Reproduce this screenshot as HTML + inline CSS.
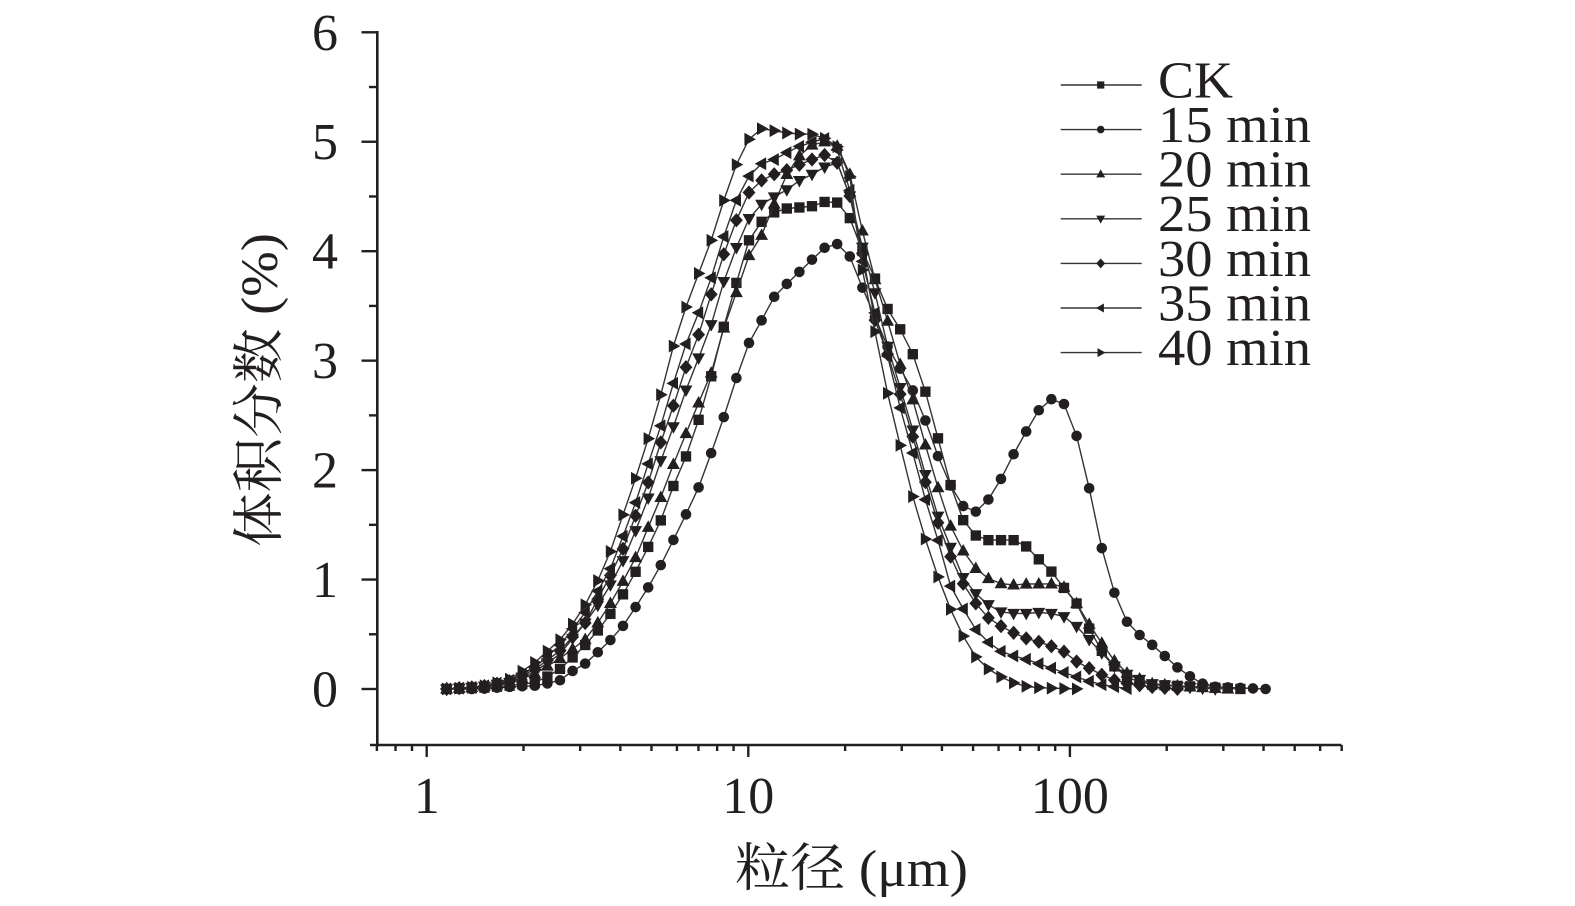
<!DOCTYPE html>
<html>
<head>
<meta charset="utf-8">
<style>
html,body{margin:0;padding:0;background:#fff;}
svg{display:block;}
text{fill:#231f20;}
</style>
</head>
<body>
<svg id="chart" xmlns="http://www.w3.org/2000/svg" width="1575" height="906" viewBox="0 0 1575 906">
<rect x="0" y="0" width="1575" height="906" fill="#fff"/>
<g id="axes" stroke="#231f20" stroke-width="2.6" fill="none" stroke-linecap="butt">
  <line x1="377.3" y1="31" x2="377.3" y2="746.3"/>
  <line x1="370" y1="745" x2="1341.5" y2="745"/>
</g>
<g id="ticks" stroke="#231f20" stroke-width="2.4" fill="none"></g>
<g font-family="'Liberation Serif', serif" font-size="52" fill="#231f20">
  <text x="338" y="706.5" text-anchor="end">0</text>
  <text x="338" y="597" text-anchor="end">1</text>
  <text x="338" y="487.6" text-anchor="end">2</text>
  <text x="338" y="378.1" text-anchor="end">3</text>
  <text x="338" y="268.7" text-anchor="end">4</text>
  <text x="338" y="159.2" text-anchor="end">5</text>
  <text x="338" y="49.8" text-anchor="end">6</text>
  <text x="426.7" y="813" text-anchor="middle">1</text>
  <text x="748.3" y="813" text-anchor="middle">10</text>
  <text x="1069.9" y="813" text-anchor="middle">100</text>
</g>
<text x="735" y="886" font-family="'Liberation Serif','Noto Serif CJK SC',serif" font-size="52" textLength="233" lengthAdjust="spacingAndGlyphs">粒径 (μm)</text>
<text transform="translate(277,547) rotate(-90)" x="0" y="0" font-family="'Liberation Serif','Noto Serif CJK SC',serif" font-size="52" textLength="314" lengthAdjust="spacingAndGlyphs">体积分数 (%)</text>
<g id="series"></g>
<g id="legend"></g>
<g font-family="'Liberation Serif', serif" font-size="52" fill="#231f20">
  <text x="1158" y="97.5" textLength="75" lengthAdjust="spacingAndGlyphs">CK</text>
  <text x="1158" y="142" textLength="153" lengthAdjust="spacingAndGlyphs">15 min</text>
  <text x="1158" y="186.6" textLength="153" lengthAdjust="spacingAndGlyphs">20 min</text>
  <text x="1158" y="231.2" textLength="153" lengthAdjust="spacingAndGlyphs">25 min</text>
  <text x="1158" y="275.8" textLength="153" lengthAdjust="spacingAndGlyphs">30 min</text>
  <text x="1158" y="320.4" textLength="153" lengthAdjust="spacingAndGlyphs">35 min</text>
  <text x="1158" y="365" textLength="153" lengthAdjust="spacingAndGlyphs">40 min</text>
</g>
</svg>
<script>
(function(){
var NS="http://www.w3.org/2000/svg";
function el(tag,attrs,parent){var e=document.createElementNS(NS,tag);for(var k in attrs)e.setAttribute(k,attrs[k]);parent.appendChild(e);return e;}
var X=function(v){return 426.7+321.6*Math.log10(v);};
var Y=function(v){return 689-109.45*v;};
var tg=document.getElementById('ticks');
for(var v=0;v<=6;v++){var y=Y(v);el('line',{x1:361.5,y1:y,x2:377.3,y2:y},tg);}
for(var v=0.5;v<6;v+=1){var y=Y(v);el('line',{x1:369,y1:y,x2:377.3,y2:y},tg);}
[1,10,100].forEach(function(v){var x=X(v);el('line',{x1:x,y1:745,x2:x,y2:757},tg);});
var minors=[0.7,0.8,0.9];
for(var d=1;d<=100;d*=10){for(var m=2;m<=9;m++){if(d*m<=700)minors.push(d*m);}}
minors.forEach(function(v){var x=X(v);el('line',{x1:x,y1:745,x2:x,y2:751},tg);});

var S={
 r40:[[446,0],[480,0.02],[508,0.08],[521.7,0.16],[533.3,0.23],[546.7,0.34],[560,0.45],[575,0.62],[587.3,0.80],[600,1.03],[613.3,1.32],[624,1.62],[637.3,1.97],[650,2.34],[662.7,2.75],[673.3,3.13],[686.7,3.51],[700,3.83],[713.3,4.15],[725,4.50],[738.3,4.84],[750,5.04],[761.7,5.12],[775,5.10],[786.7,5.08],[800,5.07],[811.7,5.07],[825,5.03],[838,4.95],[851.7,4.64],[861.7,3.86],[876,3.22],[888.3,2.67],[901.7,2.17],[913.3,1.74],[926.7,1.33],[940,0.97],[952.7,0.68],[965,0.45],[976.7,0.28],[990,0.17],[1003,0.10],[1015,0.05],[1028,0.02],[1042,0.01],[1080,0]],
 l35:[[446,0],[480,0.02],[510,0.08],[535,0.2],[560,0.4],[587,0.72],[611.7,1.12],[624,1.42],[636.7,1.73],[648.3,2.06],[661.7,2.43],[673.3,2.79],[685,3.13],[698.3,3.43],[711.7,3.77],[723.3,4.12],[735,4.44],[748.3,4.68],[761.7,4.80],[775,4.84],[786.7,4.90],[800,4.96],[813.3,5.0],[825,5.03],[838,4.92],[850,4.55],[863.3,3.86],[876,3.4],[888.3,3.02],[900.7,2.55],[913.3,2.14],[926,1.71],[940,1.30],[950,0.95],[963.3,0.73],[976.7,0.53],[989.3,0.42],[1001.7,0.34],[1014.3,0.30],[1026.7,0.27],[1039.3,0.23],[1051.7,0.19],[1064.3,0.15],[1076.7,0.11],[1089.3,0.07],[1101.7,0.04],[1115,0.02],[1130,0]],
 d30:[[446,0],[480,0.02],[510,0.07],[535,0.18],[560,0.35],[585,0.6],[598.3,0.83],[611.7,1.06],[624,1.30],[636.7,1.61],[650,1.93],[661.7,2.28],[675,2.63],[686.7,2.96],[700,3.27],[710,3.57],[721.7,3.92],[736.7,4.29],[748.3,4.53],[760,4.64],[773.3,4.70],[786.7,4.74],[799.3,4.79],[812.7,4.84],[825,4.88],[836.7,4.82],[850,4.5],[862,4.0],[875,3.37],[888,3.05],[900,2.70],[913.3,2.29],[926,1.87],[938.3,1.51],[951,1.2],[964.3,0.94],[976.7,0.77],[988.3,0.65],[1001.7,0.57],[1014.3,0.51],[1026.7,0.46],[1039.3,0.43],[1051.7,0.39],[1064.3,0.34],[1076.7,0.25],[1089.3,0.19],[1101.7,0.13],[1115,0.08],[1127.7,0.05],[1150,0.02],[1180,0]],
 v25:[[446,0],[480,0.02],[510,0.06],[535,0.16],[560,0.32],[585,0.6],[599,0.78],[611.7,0.97],[624,1.19],[636.7,1.47],[649.3,1.77],[661.7,2.11],[674,2.41],[686.7,2.75],[699.3,3.04],[711.7,3.34],[723.3,3.71],[736.7,4.04],[748.3,4.29],[760,4.42],[775,4.50],[786.7,4.56],[798.3,4.64],[811.7,4.70],[825,4.77],[836.7,4.82],[850,4.5],[862,4.05],[875,3.62],[887.3,3.14],[900,2.76],[913.3,2.35],[926,1.94],[938.3,1.57],[951.7,1.27],[964,1.0],[976.7,0.86],[988.3,0.77],[1001.7,0.70],[1014.3,0.69],[1026.7,0.69],[1039.3,0.70],[1051.7,0.69],[1064.3,0.66],[1076.7,0.57],[1089.3,0.45],[1101.7,0.33],[1115,0.20],[1127.7,0.13],[1150,0.05],[1180,0.02],[1216,0]],
 u20:[[446,0],[480,0.02],[510,0.05],[535,0.14],[560,0.28],[585,0.45],[599,0.62],[611.7,0.80],[624,1.0],[636.7,1.22],[648.3,1.48],[661.7,1.77],[673.3,2.05],[686.7,2.35],[699.3,2.63],[710.7,2.87],[722.7,3.27],[736.7,3.63],[748.3,3.95],[763.3,4.17],[775,4.45],[786.7,4.7],[800,4.88],[813.3,4.98],[825,5.0],[836.7,4.97],[850,4.7],[862,4.2],[875,3.74],[888.3,3.34],[900.7,2.95],[913.3,2.63],[926,2.21],[938.3,1.83],[950,1.50],[963.3,1.26],[976.7,1.09],[988.3,1.01],[1001.7,0.96],[1014.3,0.95],[1026.7,0.96],[1039.3,0.96],[1051.7,0.96],[1064.3,0.93],[1076.7,0.78],[1089.3,0.59],[1101.7,0.42],[1115,0.25],[1127.7,0.14],[1150,0.05],[1190,0.02],[1228,0]],
 ck:[[446,0],[480,0.01],[510,0.03],[535,0.06],[546.7,0.11],[558.3,0.17],[571.7,0.28],[585,0.40],[598.3,0.54],[610.7,0.69],[622.7,0.86],[635,1.06],[648.3,1.30],[661.3,1.55],[672.7,1.84],[686.7,2.14],[698.3,2.45],[711,2.85],[723.5,3.3],[736.7,3.72],[748.3,4.09],[761.7,4.27],[775,4.36],[786.7,4.39],[800,4.40],[811.7,4.41],[824.3,4.45],[836.7,4.45],[850,4.30],[862.5,4.0],[875,3.75],[887.7,3.47],[900,3.29],[913.3,3.05],[926,2.70],[938.3,2.28],[950.7,1.86],[963.3,1.54],[976,1.40],[988.3,1.36],[1001.7,1.36],[1014.3,1.36],[1026.7,1.30],[1039.3,1.18],[1051.7,1.07],[1064.3,0.92],[1076.7,0.78],[1089.3,0.55],[1101.7,0.35],[1115,0.2],[1127.7,0.1],[1150,0.04],[1200,0.02],[1241,0]],
 c15:[[446,0],[480,0],[510,0.02],[535,0.03],[547,0.05],[560,0.08],[571.7,0.16],[585,0.23],[598.3,0.34],[610.7,0.45],[623.3,0.58],[635,0.74],[648.3,0.93],[660.7,1.13],[673.3,1.36],[685.7,1.59],[699,1.85],[711,2.15],[723.3,2.47],[736.7,2.85],[748.3,3.15],[761.7,3.37],[771.7,3.56],[786.7,3.70],[799.3,3.81],[811.7,3.92],[824.3,4.03],[836.7,4.07],[850,3.95],[862.7,3.66],[875,3.40],[888,3.12],[900,2.93],[913.3,2.72],[926,2.44],[938.3,2.12],[951,1.85],[963.3,1.67],[976,1.62],[988.3,1.73],[1001.7,1.93],[1013.3,2.14],[1026,2.35],[1039,2.55],[1051.7,2.65],[1065,2.60],[1076.7,2.31],[1089.3,1.83],[1101.7,1.29],[1115,0.86],[1127.7,0.60],[1140,0.49],[1152.7,0.40],[1165,0.30],[1178.3,0.19],[1191,0.11],[1202,0.05],[1215,0.02],[1266,0]]
};
function interp(a,x){
 if(x<=a[0][0])return a[0][1];
 for(var i=1;i<a.length;i++){if(x<=a[i][0]){var t=(x-a[i-1][0])/(a[i][0]-a[i-1][0]);return a[i-1][1]+t*(a[i][1]-a[i-1][1]);}}
 return 0;
}
function marker(type,x,y,s){
 s=s||1;
 switch(type){
  case 'sq':var h=4.5*s;return 'M'+(x-h)+' '+(y-h)+'h'+(2*h)+'v'+(2*h)+'h'+(-2*h)+'z';
  case 'up':return 'M'+x+' '+(y-6*s)+'L'+(x+5.6*s)+' '+(y+4*s)+'L'+(x-5.6*s)+' '+(y+4*s)+'z';
  case 'dn':return 'M'+x+' '+(y+6*s)+'L'+(x+5.6*s)+' '+(y-4*s)+'L'+(x-5.6*s)+' '+(y-4*s)+'z';
  case 'di':return 'M'+x+' '+(y-6.2*s)+'L'+(x+5.6*s)+' '+y+'L'+x+' '+(y+6.2*s)+'L'+(x-5.6*s)+' '+y+'z';
  case 'lt':return 'M'+(x-6*s)+' '+y+'L'+(x+4*s)+' '+(y-5.6*s)+'L'+(x+4*s)+' '+(y+5.6*s)+'z';
  case 'rt':return 'M'+(x+6*s)+' '+y+'L'+(x-4*s)+' '+(y-5.6*s)+'L'+(x-4*s)+' '+(y+5.6*s)+'z';
 }
}
var defs=[['c15','ci',65],['ck','sq',63],['u20','up',62],['v25','dn',61],['d30','di',58],['l35','lt',54],['r40','rt',50]];
var sg=document.getElementById('series');
var MS=1.15;
defs.forEach(function(d){
 var a=S[d[0]],pts=[];
 for(var i=0;i<=d[2];i++){var bx=446.6+12.6*i;var v=interp(a,bx);pts.push([bx,Y(Math.max(0,v))]);}
 el('polyline',{points:pts.map(function(p){return p[0].toFixed(1)+','+p[1].toFixed(1);}).join(' '),fill:'none',stroke:'#333','stroke-width':1.4},sg);
 var g=el('g',{fill:'#231f20'},sg);
 pts.forEach(function(p){
  if(d[1]==='ci'){el('circle',{cx:p[0],cy:p[1],r:4.6*MS},g);}
  else el('path',{d:marker(d[1],p[0],p[1],MS)},g);
 });
});
var lg=document.getElementById('legend');
var order=['sq','ci','up','dn','di','lt','rt'];
order.forEach(function(t,i){
 var y=85+44.6*i;
 el('line',{x1:1060.7,y1:y,x2:1141.7,y2:y,stroke:'#333','stroke-width':1.4},lg);
 if(t==='ci')el('circle',{cx:1100.7,cy:y,r:3.8,fill:'#231f20'},lg);
 else el('path',{d:marker(t,1100.7,y,0.8),fill:'#231f20'},lg);
});
})();
</script>
</body>
</html>
